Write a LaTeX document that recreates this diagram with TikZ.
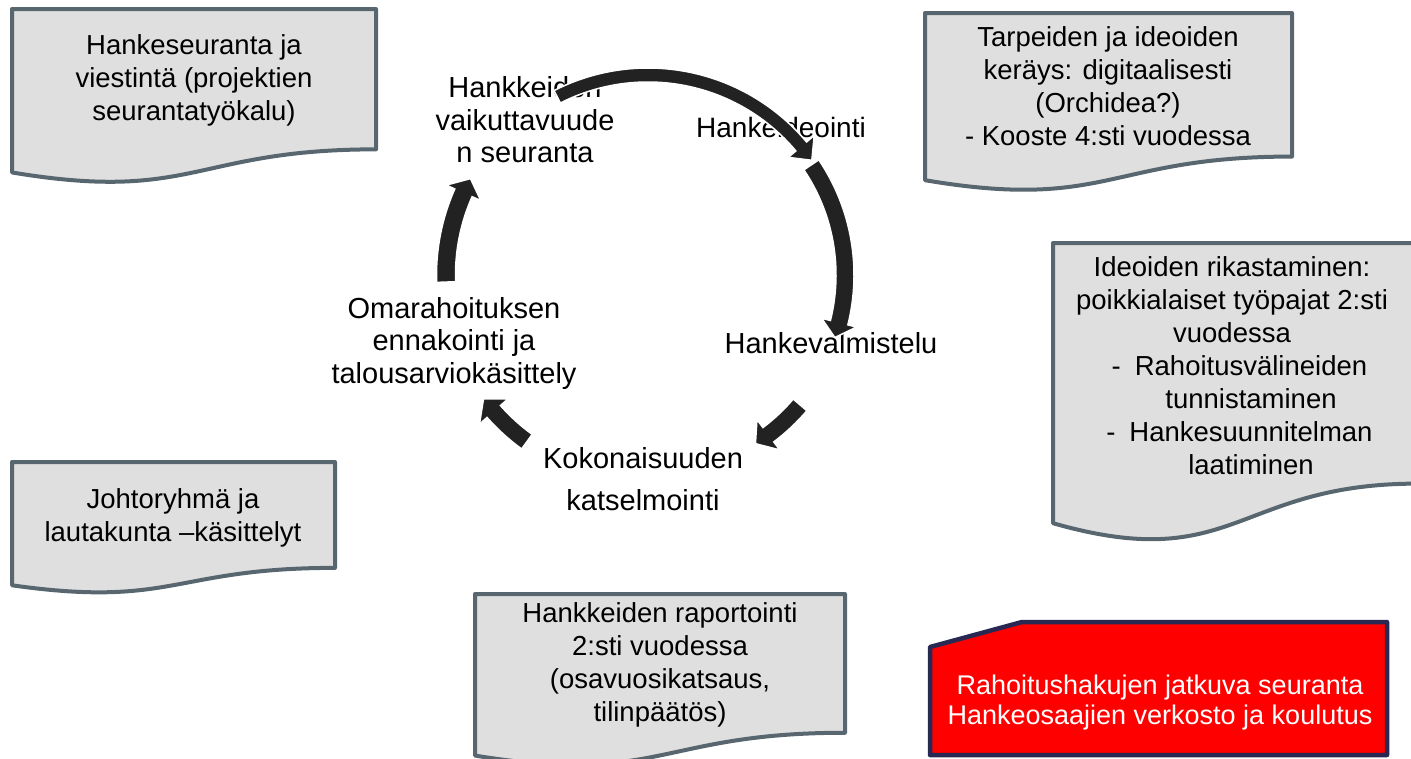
\documentclass[tikz,border=0pt]{standalone}
\usepackage{fontspec}
\setmainfont{Liberation Sans}
\definecolor{docfill}{RGB}{223,223,223}
\definecolor{docline}{RGB}{88,102,112}
\definecolor{arrowcol}{RGB}{34,34,34}
\definecolor{navyline}{RGB}{40,40,82}
\definecolor{redfill}{RGB}{255,0,0}
\newcommand\docshape[4]{%
  \filldraw[docstyle] (#1,#2) -- ({#1+#3},#2) -- ({#1+#3},{#2+0.802*#4})
    .. controls ({#1+0.5*#3},{#2+0.802*#4}) and ({#1+0.5*#3},{#2+1.1075*#4}) ..
    (#1,{#2+0.934*#4}) -- cycle;}
\newcommand\blockarc[6]{%
  \filldraw[arrowbody] (#1:{#4+#5}) arc[start angle=#1,end angle=#2,radius={#4+#5}]
    -- (#2:{#4+#6}) -- (#3:#4) -- (#2:{#4-#6})
    -- (#2:{#4-#5}) arc[start angle=#2,end angle=#1,radius={#4-#5}] -- cycle;}
\begin{document}
\begin{tikzpicture}[x=1pt,y=-1pt,
  docstyle/.style={fill=docfill,draw=docline,line width=4pt,line join=round},
  boxtext/.style={align=center,inner sep=0pt,font=\fontsize{27.5}{33}\selectfont},
  cyctext/.style={align=center,inner sep=0pt,font=\fontsize{29}{32.5}\selectfont},
  arrowbody/.style={fill=arrowcol,draw=white,line width=1.5pt,line join=miter}]
\useasboundingbox (0,0) rectangle (1411,758);

% document shapes
\docshape{12}{9}{364}{175}
\docshape{925}{13}{367}{179}
\docshape{1053}{243}{365}{300}
\docshape{12}{462}{323}{132}
\docshape{475}{594}{370}{173}
\filldraw[fill=redfill,draw=navyline,line width=4.5pt,line join=round]
  (930,647) -- (1022,622) -- (1387,622) -- (1387,755) -- (930,755) -- cycle;

% box texts
\node[boxtext] (t1) at (194,80) {Hankeseuranta ja\\viestintä (projektien\\seurantatyökalu)};
\node[boxtext] (t2) at (1108,86) {Tarpeiden ja ideoiden\\keräys: digitaalisesti\\(Orchidea?)\\- Kooste 4:sti vuodessa};
\node[boxtext] (t3) at (1232,366) {Ideoiden rikastaminen:\\poikkialaiset työpajat 2:sti\\vuodessa\\
  \hspace*{38pt}\llap{-\hspace{14pt}}Rahoitusvälineiden\\
  \hspace*{38pt}tunnistaminen\\
  \hspace*{38pt}\llap{-\hspace{14pt}}Hankesuunnitelman\\
  \hspace*{38pt}laatiminen};
\node[boxtext] (t4) at (173,518) {Johtoryhmä ja\\lautakunta –käsittelyt};
\node[boxtext] (t5) at (660,665) {Hankkeiden raportointi\\2:sti vuodessa\\(osavuosikatsaus,\\tilinpäätös)};
\node[boxtext,text=white,font=\fontsize{27}{30}\selectfont] (t6) at (1160,703)
  {Rahoitushakujen jatkuva seuranta\\Hankeosaajien verkosto ja koulutus};

% cycle labels
\node[cyctext] (c1) at (525,120) {Hankkeiden\\vaikuttavuude\\n seuranta};
\node[cyctext,font=\fontsize{28}{32}\selectfont] (c2) at (781,127) {Hankeideointi};
\node[cyctext] (c3) at (831,343) {Hankevalmistelu};
\node[cyctext,font=\fontsize{29}{42}\selectfont] (c4) at (643,479) {Kokonaisuuden\\katselmointi};
\node[cyctext] (c5) at (454,343) {Omarahoituksen\\ennakointi ja\\talousarviokäsittely};

% cycle arrows
\begin{scope}[shift={(648,275)}]
\blockarc{-117}{-40}{-35}{200}{7}{17}
\blockarc{-34}{14}{18.5}{197}{9}{18}
\blockarc{40.5}{53}{57.5}{200}{9}{19}
\blockarc{126}{138.5}{143}{206}{9}{19}
\blockarc{178}{204}{208.5}{202}{9.5}{19}
\end{scope}
\end{tikzpicture}
\end{document}
